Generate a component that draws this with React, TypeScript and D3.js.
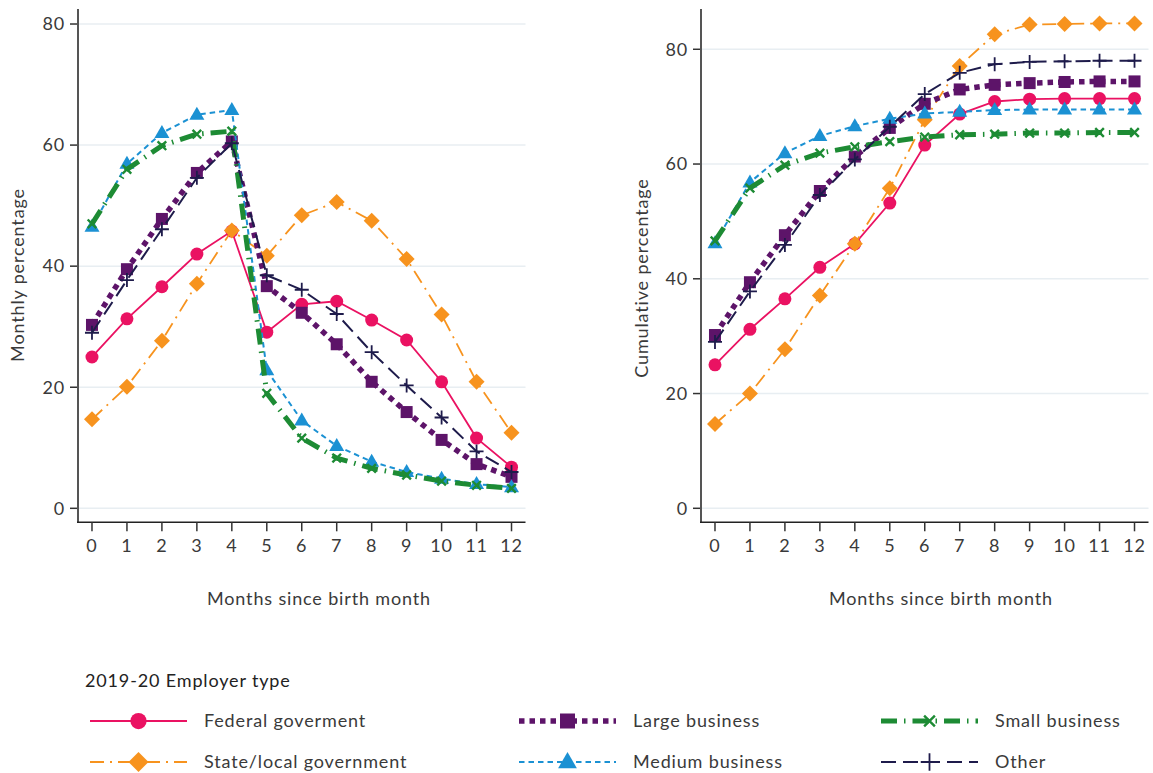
import React from "react";
import * as d3 from "d3";

const months = [0, 1, 2, 3, 4, 5, 6, 7, 8, 9, 10, 11, 12];
const yTicks = [0, 20, 40, 60, 80];

const seriesNames = ["Federal goverment", "State/local government", "Large business", "Medium business", "Small business", "Other"];

// Monthly percentage
const monthlyFederal = [25.0, 31.3, 36.6, 42.0, 45.8, 29.1, 33.7, 34.2, 31.1, 27.8, 20.9, 11.6, 6.8];
const monthlyState = [14.7, 20.1, 27.7, 37.1, 45.9, 41.7, 48.4, 50.6, 47.5, 41.2, 32.0, 20.9, 12.5];
const monthlyLarge = [30.3, 39.5, 47.8, 55.4, 60.6, 36.7, 32.3, 27.1, 20.9, 15.9, 11.3, 7.3, 5.2];
const monthlyMedium = [46.5, 56.9, 62.0, 65.0, 65.8, 22.8, 14.5, 10.3, 7.7, 6.0, 4.9, 4.0, 3.5];
const monthlySmall = [47.0, 56.0, 59.9, 61.8, 62.3, 19.0, 11.6, 8.3, 6.6, 5.5, 4.5, 3.8, 3.3];
const monthlyOther = [29.0, 37.7, 46.1, 54.6, 60.3, 38.5, 36.1, 32.1, 25.8, 20.3, 15.0, 9.4, 6.0];

// Cumulative percentage
const cumFederal = [25.0, 31.2, 36.5, 42.0, 46.1, 53.2, 63.3, 68.7, 70.9, 71.3, 71.4, 71.4, 71.4];
const cumState = [14.7, 20.0, 27.7, 37.1, 46.1, 55.8, 67.7, 77.1, 82.6, 84.3, 84.4, 84.5, 84.5];
const cumLarge = [30.2, 39.4, 47.6, 55.3, 61.3, 66.3, 70.5, 73.0, 73.8, 74.1, 74.3, 74.4, 74.4];
const cumMedium = [46.2, 56.8, 61.9, 64.9, 66.6, 67.9, 68.8, 69.1, 69.4, 69.5, 69.5, 69.5, 69.5];
const cumSmall = [46.6, 55.8, 59.8, 61.9, 63.0, 63.9, 64.7, 65.1, 65.2, 65.4, 65.4, 65.5, 65.5];
const cumOther = [29.0, 37.8, 45.9, 54.6, 60.8, 66.5, 72.2, 75.9, 77.4, 77.8, 77.9, 78.0, 78.0];

const monthlyData = [monthlyFederal, monthlyState, monthlyLarge, monthlyMedium, monthlySmall, monthlyOther];
const cumData = [cumFederal, cumState, cumLarge, cumMedium, cumSmall, cumOther];

const colors = ["#ea1262", "#f7931e", "#5d1469", "#1b91d3", "#1d8b34", "#1e1b4b"];
const styles = [
  { w: 1.8, dash: "" },
  { w: 1.8, dash: "14 6 2 6" },
  { w: 5.5, dash: "5.5 5" },
  { w: 2, dash: "5.5 4" },
  { w: 5, dash: "16 7 1.5 7" },
  { w: 2, dash: "15 7" },
];

const FONT = "Lato, 'Open Sans', sans-serif";
const LS = 0.85;
const TXT = "#3a3a3a";

function Marker({ type, x, y, s, color }: { type: number; x: number; y: number; s: number; color: string }) {
  if (type === 0) return <circle cx={x} cy={y} r={6.5 * s} fill={color} />;
  if (type === 1) {
    const h = 8 * s;
    return <path d={`M${x},${y - h}L${x + h},${y}L${x},${y + h}L${x - h},${y}Z`} fill={color} />;
  }
  if (type === 2) {
    const h = 6 * s;
    return <rect x={x - h} y={y - h} width={2 * h} height={2 * h} fill={color} />;
  }
  if (type === 3) {
    const a = 7.5 * s;
    return <path d={`M${x},${y - 8 * s}L${x + a},${y + 5 * s}L${x - a},${y + 5 * s}Z`} fill={color} />;
  }
  if (type === 4) {
    const a = 4.3 * s;
    return (
      <path d={`M${x - a},${y - a}L${x + a},${y + a}M${x - a},${y + a}L${x + a},${y - a}`} stroke={color} strokeWidth={2.4} fill="none" />
    );
  }
  const a = 7 * s;
  return <path d={`M${x - a},${y}L${x + a},${y}M${x},${y - a}L${x},${y + a}`} stroke={color} strokeWidth={1.8} fill="none" />;
}

function Panel({ left, data, yMax, title, xTitleX }: { left: number; data: number[][]; yMax: number; title: string; xTitleX: number }) {
  const right = left + 447.5;
  const top = 9;
  const bottom = 522.3;
  const x = d3.scaleLinear().domain([-0.4, 12.4]).range([left, right]);
  const yMin = left < 300 ? -2.31 : -2.44;
  const y = d3.scaleLinear().domain([yMin, yMax]).range([bottom, top]);
  const line = d3
    .line<number>()
    .x((_, i) => x(months[i]))
    .y((d) => y(d));
  const titleY = left < 300 ? 275 : 278;
  const titleX = left < 300 ? 18 : 642;
  return (
    <g>
      {yTicks.map((t) => (
        <g key={t}>
          <line x1={left} x2={right} y1={y(t)} y2={y(t)} stroke="#e8eef2" strokeWidth={1.5} />
          <line x1={left - 8} x2={left} y1={y(t)} y2={y(t)} stroke="#333" strokeWidth={1.5} />
          <text x={left - 13} y={y(t)} dy="0.35em" textAnchor="end" fontSize={18} fill={TXT} fontFamily={FONT} letterSpacing={LS}>
            {t}
          </text>
        </g>
      ))}
      <line x1={left} x2={left} y1={top} y2={bottom} stroke="#555" strokeWidth={2} />
      <line x1={left - 1} x2={right} y1={bottom} y2={bottom} stroke="#222" strokeWidth={1.6} />
      {months.map((m) => (
        <g key={m}>
          <line x1={x(m)} x2={x(m)} y1={bottom} y2={bottom + 9} stroke="#333" strokeWidth={1.5} />
          <text x={x(m)} y={bottom + 23} dy="0.35em" textAnchor="middle" fontSize={18} fill={TXT} fontFamily={FONT} letterSpacing={LS}>
            {m}
          </text>
        </g>
      ))}
      <text x={xTitleX} y={599} dy="0.35em" textAnchor="middle" fontSize={18} fill={TXT} fontFamily={FONT} letterSpacing={LS}>
        Months since birth month
      </text>
      <text
        transform={`translate(${titleX},${titleY}) rotate(-90)`}
        dy="0.35em"
        textAnchor="middle"
        fontSize={18}
        fill={TXT}
        fontFamily={FONT}
        letterSpacing={LS}
      >
        {title}
      </text>
      {data.map((s, k) => (
        <g key={k}>
          <path d={line(s) || ""} fill="none" stroke={colors[k]} strokeWidth={styles[k].w} strokeDasharray={styles[k].dash} />
          {s.map((v, i) => (
            <Marker key={i} type={k} x={x(months[i])} y={y(v)} s={1} color={colors[k]} />
          ))}
        </g>
      ))}
    </g>
  );
}

const legendCols = [90, 519, 881];
const legendRows = [721, 762];

export default function App() {
  return (
    <svg width={1153} height={773} style={{ position: "absolute", left: 0, top: 0, background: "#fff" }}>
      <rect width={1153} height={773} fill="#fff" />
      <Panel left={78} data={monthlyData} yMax={82.48} title="Monthly percentage" xTitleX={319} />
      <Panel left={701} data={cumData} yMax={87.02} title="Cumulative percentage" xTitleX={941} />
      <text x={85} y={681} dy="0.35em" fontSize={18} fill="#222" fontFamily={FONT} letterSpacing={LS}>
        2019-20 Employer type
      </text>
      {seriesNames.map((name, k) => {
        const col = Math.floor(k / 2);
        const row = k % 2;
        const lx = legendCols[col];
        const ly = legendRows[row];
        const len = 97;
        return (
          <g key={name}>
            <line x1={lx} x2={lx + len} y1={ly} y2={ly} stroke={colors[k]} strokeWidth={styles[k].w} strokeDasharray={styles[k].dash} />
            <Marker type={k} x={lx + len / 2} y={ly} s={1.25} color={colors[k]} />
            <text x={lx + len + 17} y={ly} dy="0.35em" fontSize={18} fill={TXT} fontFamily={FONT} letterSpacing={LS}>
              {name}
            </text>
          </g>
        );
      })}
    </svg>
  );
}
